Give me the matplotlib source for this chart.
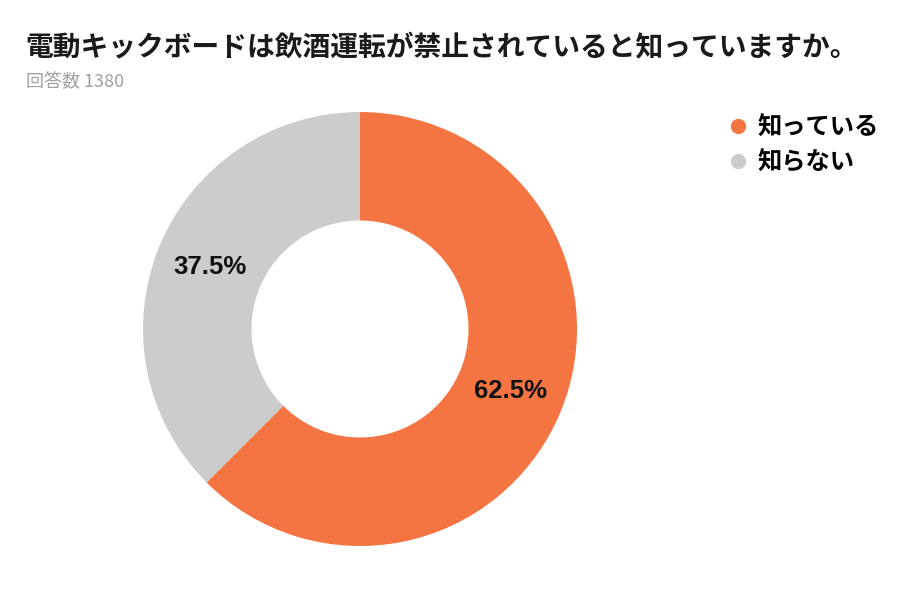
import matplotlib.pyplot as plt
from matplotlib.lines import Line2D

plt.rcParams['font.family'] = ['Noto Sans CJK JP', 'DejaVu Sans']

# data
labels = ["知っている", "知らない"]
shares = [62.5, 37.5]
colors = ["#F47442", "#CCCCCC"]
title = "電動キックボードは飲酒運転が禁止されていると知っていますか。"
subtitle = "回答数 1380"

fig = plt.figure(figsize=(9, 6), dpi=100)
ax = fig.add_axes([143 / 900, 54 / 600, 434 / 900, 434 / 600])

wedges, texts, autotexts = ax.pie(
    shares,
    colors=colors,
    startangle=90,
    counterclock=False,
    autopct="%.1f%%",
    pctdistance=0.75,
    wedgeprops=dict(width=0.5, edgecolor="none"),
    textprops=dict(fontsize=18.5, fontweight="bold", color="#111111",
                   family="Liberation Sans"),
)
ax.set_xlim(-1, 1)
ax.set_ylim(-1, 1)

fig.text(25 / 900, 1 - 48 / 600, title, fontsize=20, fontweight="bold",
         color="#1a1a1a", va="center", ha="left")
fig.text(26 / 900, 1 - 82 / 600, subtitle, fontsize=13, color="#a0a0a0",
         va="center", ha="left")

handles = [Line2D([], [], marker="o", linestyle="none", markersize=11,
                  markerfacecolor=c, markeredgecolor="none") for c in colors]
fig.legend(handles, labels, loc="upper left",
           bbox_to_anchor=(716 / 900, 1 - 106 / 600),
           frameon=False, handlelength=1.0, handletextpad=0.3,
           labelspacing=0.45, borderaxespad=0,
           prop=dict(size=17.5, weight="bold"))

fig.savefig("out.png", dpi=100, facecolor="white")
